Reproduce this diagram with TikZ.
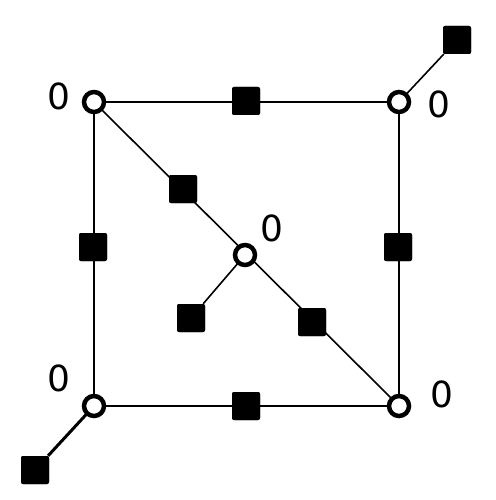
\documentclass[tikz,border=0pt]{standalone}
\usepackage{fontspec}
\setmainfont{DejaVu Sans}
\begin{document}
\begin{tikzpicture}[x=1pt,y=-1pt,
  vtx/.style={circle,draw=black,fill=white,line width=4.5pt,minimum size=20pt,inner sep=0pt},
  sq/.style={rectangle,rounded corners=2pt,fill=black,minimum size=28pt,inner sep=0pt},
  lab/.style={font=\fontsize{36}{36}\selectfont,inner sep=0pt},
  edge/.style={line width=1.6pt}]
\useasboundingbox (0,0) rectangle (495,500);
\node[sq] (s1) at (246,101) {};
\node[sq] (s2) at (183,189) {};
\node[sq] (s3) at (93,247) {};
\node[sq] (s4) at (398,247) {};
\node[sq] (s5) at (312,322) {};
\node[sq] (s6) at (191,318) {};
\node[sq] (s7) at (246,406) {};
\node[sq] (s8) at (457,40) {};
\node[sq] (s9) at (35,470) {};
\coordinate (A) at (94,102);
\coordinate (B) at (399,102);
\coordinate (C) at (94,406);
\coordinate (D) at (399,406);
\coordinate (E) at (245,255);
\draw[edge] (A) -- (B) -- (D) -- (C) -- (A);
\draw[edge] (A) -- (D);
\draw[edge] (E) -- (s6);
\draw[edge] (B) -- (s8);
\draw[line width=3pt] (C) -- (s9);
\foreach \n in {s1,s2,s3,s4,s5,s6,s7,s8,s9} \node[sq] at (\n) {};
\node[vtx] (a) at (A) {};
\node[vtx] (b) at (B) {};
\node[vtx] (c) at (C) {};
\node[vtx] (d) at (D) {};
\node[vtx] (e) at (E) {};
\node[lab] (la) at (59,96) {0};
\node[lab] (lb) at (439,104) {0};
\node[lab] (le) at (272,228) {0};
\node[lab] (lc) at (59,378) {0};
\node[lab] (ld) at (442,394) {0};
\end{tikzpicture}
\end{document}
